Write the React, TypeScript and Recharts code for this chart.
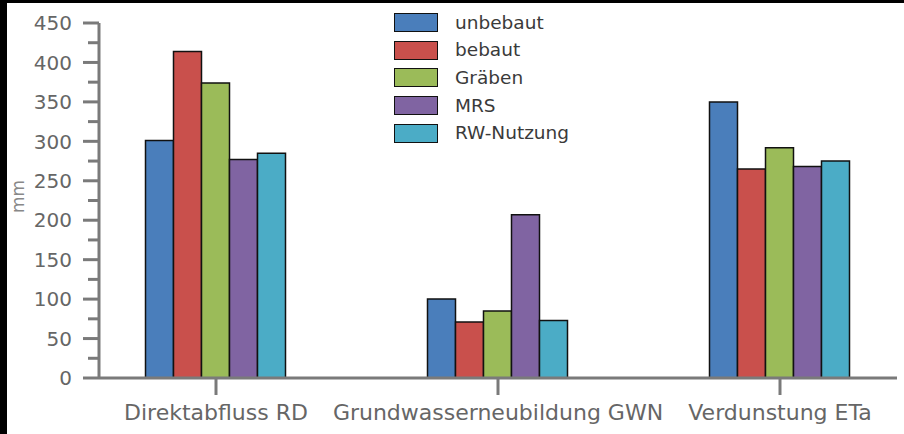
import React from 'react';
import { BarChart, Bar, XAxis, YAxis, Legend } from 'recharts';

const categories = ['Direktabfluss RD', 'Grundwasserneubildung GWN', 'Verdunstung ETa'];
const unbebaut = [301, 100, 350];
const bebaut = [414, 71, 265];
const graeben = [374, 85, 292];
const mrs = [277, 207, 268];
const rwNutzung = [285, 73, 275];
const yTicks = [0, 25, 50, 75, 100, 125, 150, 175, 200, 225, 250, 275, 300, 325, 350, 375, 400, 425, 450];

const data = categories.map((name, i) => ({
  name,
  unbebaut: unbebaut[i],
  bebaut: bebaut[i],
  graeben: graeben[i],
  mrs: mrs[i],
  rw: rwNutzung[i],
}));

const series = [
  { key: 'unbebaut', label: 'unbebaut', color: '#4a7ebb' },
  { key: 'bebaut', label: 'bebaut', color: '#c9504c' },
  { key: 'graeben', label: 'Gräben', color: '#9bbb59' },
  { key: 'mrs', label: 'MRS', color: '#8064a2' },
  { key: 'rw', label: 'RW-Nutzung', color: '#4bacc6' },
];

const FONT = '"DejaVu Sans", sans-serif';
const AXIS = '#7a7a7a';

const YTick = (props: any) => {
  const { x, y, payload } = props;
  const major = payload.value % 50 === 0;
  return (
    <g>
      <line x1={x - (major ? 16 : 11)} x2={x} y1={y} y2={y} stroke={AXIS} strokeWidth={3} />
      {major && (
        <text x={x - 27} y={y} dy="0.36em" textAnchor="end" fontSize={20} fill="#666" fontFamily={FONT}>
          {payload.value}
        </text>
      )}
    </g>
  );
};

// keep the legend in series order (recharts sorts the payload by name)
const LegendBox = () => (
  <div style={{ fontFamily: FONT, fontSize: 18.5, color: '#3a3a3a' }}>
    {series.map((s) => (
      <div key={s.key} style={{ display: 'flex', alignItems: 'center', height: 27.6 }}>
        <div style={{ width: 42, height: 17, background: s.color, border: '1.5px solid #111' }} />
        <span style={{ marginLeft: 17, lineHeight: '20px' }}>{s.label}</span>
      </div>
    ))}
  </div>
);

const App = () => (
  <div style={{ position: 'absolute', left: 0, top: 0, width: 904, height: 434, background: '#fff' }}>
    <BarChart
      width={904}
      height={434}
      data={data}
      margin={{ top: 23, right: 7, bottom: 0, left: 0 }}
      barCategoryGap="25%"
      barGap={0}
    >
      <XAxis
        dataKey="name"
        height={56}
        padding={{ left: -24, right: -24 }}
        axisLine={{ stroke: AXIS, strokeWidth: 3 }}
        tickLine={{ stroke: AXIS, strokeWidth: 3 }}
        tickSize={17}
        tickMargin={9}
        interval={0}
        tick={{ fontSize: 22, fill: '#666', fontFamily: FONT }}
      />
      <YAxis
        width={99}
        domain={[0, 450]}
        ticks={yTicks}
        interval={0}
        tickSize={0}
        tickMargin={0}
        tickLine={false}
        axisLine={{ stroke: AXIS, strokeWidth: 3 }}
        tick={<YTick />}
        label={{
          content: (p: any) => {
            const vb = p.viewBox;
            const cx = vb.x + 18;
            const cy = vb.y + vb.height / 2 - 4;
            return (
              <text
                x={cx}
                y={cy}
                transform={`rotate(-90, ${cx}, ${cy})`}
                textAnchor="middle"
                dy="0.36em"
                fontSize={17}
                fill="#888"
                fontFamily={FONT}
              >
                mm
              </text>
            );
          },
        }}
      />
      <Legend
        layout="vertical"
        align="center"
        verticalAlign="middle"
        content={<LegendBox />}
        wrapperStyle={{ left: 394, top: 9, width: 220 }}
      />
      {series.map((s) => (
        <Bar
          key={s.key}
          dataKey={s.key}
          name={s.label}
          fill={s.color}
          stroke="#111"
          strokeWidth={1.5}
          isAnimationActive={false}
        />
      ))}
    </BarChart>
    <div style={{ position: 'absolute', left: 0, top: 0, width: 7, height: 434, background: '#000' }} />
    <div style={{ position: 'absolute', left: 0, top: 0, width: 904, height: 3, background: '#000' }} />
  </div>
);

export default App;
